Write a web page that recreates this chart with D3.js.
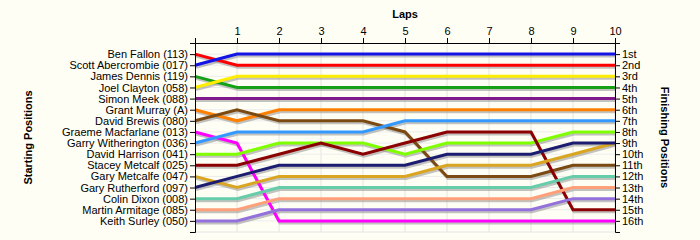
<!DOCTYPE html>
<html>
<head>
<meta charset="utf-8">
<script src="https://cdn.jsdelivr.net/npm/d3@7"></script>
<style>
    body { margin: 0; background: #fffef4; }
    .axis text { font-family: "Liberation Sans", Arial, sans-serif; font-size: 11px; fill: #000; }
    .axis path, .axis line { stroke: #000; }
    .title { font-family: "Liberation Sans", Arial, sans-serif; font-size: 11px; font-weight: bold; }
</style>
</head>
<body>
<div id="chart"></div>
<script>
const drivers = [
    "Ben Fallon (113)", "Scott Abercrombie (017)", "James Dennis (119)", "Joel Clayton (058)",
    "Simon Meek (088)", "Grant Murray (A)", "David Brewis (080)", "Graeme Macfarlane (013)",
    "Garry Witherington (036)", "David Harrison (041)", "Stacey Metcalf (025)", "Gary Metcalfe (047)",
    "Gary Rutherford (097)", "Colin Dixon (008)", "Martin Armitage (085)", "Keith Surley (050)"
];
const finishLabels = ["1st", "2nd", "3rd", "4th", "5th", "6th", "7th", "8th",
    "9th", "10th", "11th", "12th", "13th", "14th", "15th", "16th"];
const laps = [0, 1, 2, 3, 4, 5, 6, 7, 8, 9, 10];
const lapTicks = [1, 2, 3, 4, 5, 6, 7, 8, 9, 10];

// position of each driver after each lap (lap 0 = grid)
const positions = [
    [1, 2, 2, 2, 2, 2, 2, 2, 2, 2, 2],
    [2, 1, 1, 1, 1, 1, 1, 1, 1, 1, 1],
    [3, 4, 4, 4, 4, 4, 4, 4, 4, 4, 4],
    [4, 3, 3, 3, 3, 3, 3, 3, 3, 3, 3],
    [5, 5, 5, 5, 5, 5, 5, 5, 5, 5, 5],
    [6, 7, 6, 6, 6, 6, 6, 6, 6, 6, 6],
    [7, 6, 7, 7, 7, 8, 12, 12, 12, 11, 11],
    [8, 9, 16, 16, 16, 16, 16, 16, 16, 16, 16],
    [9, 8, 8, 8, 8, 7, 7, 7, 7, 7, 7],
    [10, 10, 9, 9, 9, 10, 9, 9, 9, 8, 8],
    [11, 11, 10, 9, 10, 9, 8, 8, 8, 15, 15],
    [12, 13, 12, 12, 12, 12, 11, 11, 11, 10, 9],
    [13, 12, 11, 11, 11, 11, 10, 10, 10, 9, 9],
    [14, 14, 13, 13, 13, 13, 13, 13, 13, 12, 12],
    [15, 15, 14, 14, 14, 14, 14, 14, 14, 13, 13],
    [16, 16, 15, 15, 15, 15, 15, 15, 15, 14, 14]
];
const colors = [
    "#ff0000", "#1414e6", "#16a016", "#ffee00", "#801a8c", "#ff8000", "#7b4a12", "#ff00ff",
    "#3399ff", "#80ff00", "#8b0000", "#daa520", "#1c1c70", "#66cdaa", "#ffa07a", "#9370db"
];

const width = 700,
    height = 240,
    margin = {top: 43, right: 85, bottom: 8, left: 195};

const rows = d3.range(1, 17);

const xScale = d3
    .scaleLinear()
    .domain([0, 10])
    .range([margin.left, width - margin.right]);

const yScale = d3
    .scalePoint()
    .domain(rows)
    .range([margin.top, height - margin.bottom])
    .padding(1);

const svg = d3
    .select("#chart")
    .append("svg")
    .attr("width", width)
    .attr("height", height)
    .style("display", "block");

svg.append("rect")
    .attr("width", width)
    .attr("height", height)
    .attr("fill", "#fffef4");

// grid
svg.append("g")
    .selectAll("line")
    .data(lapTicks)
    .join("line")
    .attr("x1", (d) => xScale(d))
    .attr("x2", (d) => xScale(d))
    .attr("y1", margin.top)
    .attr("y2", height - margin.bottom)
    .attr("stroke", "#e4e4e4");
svg.append("g")
    .selectAll("line")
    .data(rows)
    .join("line")
    .attr("x1", margin.left)
    .attr("x2", width - margin.right)
    .attr("y1", (d) => yScale(d))
    .attr("y2", (d) => yScale(d))
    .attr("stroke", "#ececec");
svg.append("line")
    .attr("x1", margin.left)
    .attr("x2", width - margin.right)
    .attr("y1", height - margin.bottom)
    .attr("y2", height - margin.bottom)
    .attr("stroke", "#e4e4e4");

const line = d3
    .line()
    .x((d, i) => xScale(laps[i]))
    .y((d) => yScale(d));

// shadows first, then the coloured lines
svg.append("g")
    .attr("transform", "translate(1,2)")
    .selectAll("path")
    .data(positions)
    .join("path")
    .attr("d", line)
    .attr("fill", "none")
    .attr("stroke", "#999")
    .attr("stroke-opacity", 0.6)
    .attr("stroke-width", 3);

svg.append("g")
    .selectAll("path")
    .data(positions)
    .join("path")
    .attr("d", line)
    .attr("fill", "none")
    .attr("stroke", (d, i) => colors[i])
    .attr("stroke-width", 3);

svg.append("g")
    .attr("class", "axis")
    .attr("transform", `translate(${margin.left},0)`)
    .call(d3.axisLeft(yScale).tickSize(5).tickSizeOuter(5).tickFormat((d) => drivers[d - 1]))
    .call((g) => g.selectAll("text").attr("dx", "1px"));

svg.append("g")
    .attr("class", "axis")
    .attr("transform", `translate(${width - margin.right},0)`)
    .call(d3.axisRight(yScale).tickSize(5).tickSizeOuter(5).tickFormat((d) => finishLabels[d - 1]))
    .call((g) => g.selectAll("text").attr("dx", "-1px"));

svg.append("g")
    .attr("class", "axis")
    .attr("transform", `translate(0,${margin.top})`)
    .call(d3.axisTop(xScale).tickValues(lapTicks).tickSize(5).tickSizeOuter(5));

svg.append("text")
    .attr("class", "title")
    .attr("x", (margin.left + width - margin.right) / 2)
    .attr("y", 18)
    .attr("text-anchor", "middle")
    .text("Laps");

svg.append("text")
    .attr("class", "title")
    .attr("transform", `translate(32,${(margin.top + height - margin.bottom) / 2}) rotate(-90)`)
    .attr("text-anchor", "middle")
    .text("Starting Positions");

svg.append("text")
    .attr("class", "title")
    .attr("transform", `translate(661,${(margin.top + height - margin.bottom) / 2}) rotate(90)`)
    .attr("text-anchor", "middle")
    .text("Finishing Positions");
</script>
</body>
</html>
